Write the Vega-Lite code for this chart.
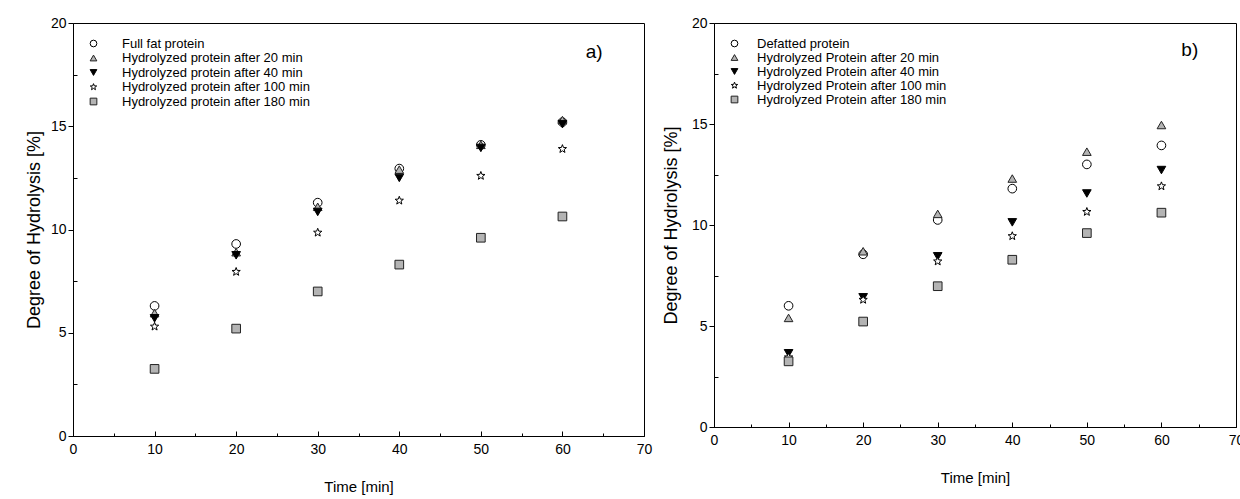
{
  "$schema": "https://vega.github.io/schema/vega-lite/v6.json",
  "background": "white",
  "padding": {"left": 24, "top": 15, "right": 0, "bottom": 0},
  "config": {
    "font": "Liberation Sans",
    "view": {"stroke": "#000", "strokeWidth": 1},
    "axis": {
      "grid": false,
      "domainColor": "#000",
      "tickColor": "#000",
      "labelColor": "#000",
      "titleColor": "#000",
      "labelFont": "Liberation Sans",
      "titleFont": "Liberation Sans",
      "labelFontSize": 14,
      "titleFontSize": 15,
      "titleFontWeight": "normal",
      "labelFlush": false,
      "labelOverlap": false
    },
    "legend": {
      "labelFont": "Liberation Sans",
      "labelFontSize": 13,
      "labelColor": "#000",
      "labelLimit": 0,
      "symbolStrokeWidth": 1,
      "symbolSize": 45,
      "rowPadding": 0.5,
      "labelOffset": 22,
      "padding": 5,
      "offset": 10,
      "orient": "top-left"
    }
  },
  "datasets": {
    "fullfat": [
      {"time": 10, "sample": "Full fat protein", "dh": 6.3},
      {"time": 10, "sample": "Hydrolyzed protein after 20 min", "dh": 5.95},
      {"time": 10, "sample": "Hydrolyzed protein after 40 min", "dh": 5.7},
      {"time": 10, "sample": "Hydrolyzed protein after 100 min", "dh": 5.3},
      {"time": 10, "sample": "Hydrolyzed protein after 180 min", "dh": 3.25},
      {"time": 20, "sample": "Full fat protein", "dh": 9.3},
      {"time": 20, "sample": "Hydrolyzed protein after 20 min", "dh": 8.9},
      {"time": 20, "sample": "Hydrolyzed protein after 40 min", "dh": 8.75},
      {"time": 20, "sample": "Hydrolyzed protein after 100 min", "dh": 7.95},
      {"time": 20, "sample": "Hydrolyzed protein after 180 min", "dh": 5.2},
      {"time": 30, "sample": "Full fat protein", "dh": 11.3},
      {"time": 30, "sample": "Hydrolyzed protein after 20 min", "dh": 11.1},
      {"time": 30, "sample": "Hydrolyzed protein after 40 min", "dh": 10.85},
      {"time": 30, "sample": "Hydrolyzed protein after 100 min", "dh": 9.85},
      {"time": 30, "sample": "Hydrolyzed protein after 180 min", "dh": 7.0},
      {"time": 40, "sample": "Full fat protein", "dh": 12.95},
      {"time": 40, "sample": "Hydrolyzed protein after 20 min", "dh": 12.9},
      {"time": 40, "sample": "Hydrolyzed protein after 40 min", "dh": 12.5},
      {"time": 40, "sample": "Hydrolyzed protein after 100 min", "dh": 11.4},
      {"time": 40, "sample": "Hydrolyzed protein after 180 min", "dh": 8.3},
      {"time": 50, "sample": "Full fat protein", "dh": 14.1},
      {"time": 50, "sample": "Hydrolyzed protein after 20 min", "dh": 14.1},
      {"time": 50, "sample": "Hydrolyzed protein after 40 min", "dh": 13.95},
      {"time": 50, "sample": "Hydrolyzed protein after 100 min", "dh": 12.6},
      {"time": 50, "sample": "Hydrolyzed protein after 180 min", "dh": 9.6},
      {"time": 60, "sample": "Full fat protein", "dh": 15.2},
      {"time": 60, "sample": "Hydrolyzed protein after 20 min", "dh": 15.3},
      {"time": 60, "sample": "Hydrolyzed protein after 40 min", "dh": 15.1},
      {"time": 60, "sample": "Hydrolyzed protein after 100 min", "dh": 13.9},
      {"time": 60, "sample": "Hydrolyzed protein after 180 min", "dh": 10.63}
    ],
    "defatted": [
      {"time": 10, "sample": "Defatted protein", "dh": 6.0},
      {"time": 10, "sample": "Hydrolyzed Protein after 20 min", "dh": 5.4},
      {"time": 10, "sample": "Hydrolyzed Protein after 40 min", "dh": 3.65},
      {"time": 10, "sample": "Hydrolyzed Protein after 100 min", "dh": 3.45},
      {"time": 10, "sample": "Hydrolyzed Protein after 180 min", "dh": 3.25},
      {"time": 20, "sample": "Defatted protein", "dh": 8.55},
      {"time": 20, "sample": "Hydrolyzed Protein after 20 min", "dh": 8.7},
      {"time": 20, "sample": "Hydrolyzed Protein after 40 min", "dh": 6.42},
      {"time": 20, "sample": "Hydrolyzed Protein after 100 min", "dh": 6.3},
      {"time": 20, "sample": "Hydrolyzed Protein after 180 min", "dh": 5.22},
      {"time": 30, "sample": "Defatted protein", "dh": 10.25},
      {"time": 30, "sample": "Hydrolyzed Protein after 20 min", "dh": 10.55},
      {"time": 30, "sample": "Hydrolyzed Protein after 40 min", "dh": 8.45},
      {"time": 30, "sample": "Hydrolyzed Protein after 100 min", "dh": 8.2},
      {"time": 30, "sample": "Hydrolyzed Protein after 180 min", "dh": 6.97},
      {"time": 40, "sample": "Defatted protein", "dh": 11.8},
      {"time": 40, "sample": "Hydrolyzed Protein after 20 min", "dh": 12.3},
      {"time": 40, "sample": "Hydrolyzed Protein after 40 min", "dh": 10.13},
      {"time": 40, "sample": "Hydrolyzed Protein after 100 min", "dh": 9.45},
      {"time": 40, "sample": "Hydrolyzed Protein after 180 min", "dh": 8.28},
      {"time": 50, "sample": "Defatted protein", "dh": 13.0},
      {"time": 50, "sample": "Hydrolyzed Protein after 20 min", "dh": 13.63},
      {"time": 50, "sample": "Hydrolyzed Protein after 40 min", "dh": 11.56},
      {"time": 50, "sample": "Hydrolyzed Protein after 100 min", "dh": 10.65},
      {"time": 50, "sample": "Hydrolyzed Protein after 180 min", "dh": 9.6},
      {"time": 60, "sample": "Defatted protein", "dh": 13.94},
      {"time": 60, "sample": "Hydrolyzed Protein after 20 min", "dh": 14.95},
      {"time": 60, "sample": "Hydrolyzed Protein after 40 min", "dh": 12.72},
      {"time": 60, "sample": "Hydrolyzed Protein after 100 min", "dh": 11.92},
      {"time": 60, "sample": "Hydrolyzed Protein after 180 min", "dh": 10.61}
    ]
  },
  "spacing": 8,
  "hconcat": [
    {
      "width": 571,
      "height": 413,
      "data": {"name": "fullfat"},
      "layer": [
        {
          "mark": {"type": "point", "opacity": 0},
          "encoding": {
            "x": {"field": "time", "type": "quantitative", "scale": {"domain": [0, 70], "nice": false},
                  "axis": {"orient": "bottom", "values": [5, 15, 25, 35, 45, 55, 65], "labels": false, "domain": false, "tickSize": -3, "title": null}},
            "y": {"field": "dh", "type": "quantitative", "scale": {"domain": [0, 20], "nice": false},
                  "axis": {"orient": "left", "values": [2.5, 7.5, 12.5, 17.5], "labels": false, "domain": false, "tickSize": -4, "title": null}}
          }
        },
        {
          "mark": {"type": "point", "filled": true, "size": 75, "strokeWidth": 1, "opacity": 1},
          "encoding": {
            "x": {"field": "time", "type": "quantitative", "scale": {"domain": [0, 70], "nice": false},
                  "axis": {"orient": "bottom", "values": [0, 10, 20, 30, 40, 50, 60, 70], "tickSize": -5, "labelPadding": 11, "title": "Time [min]", "titlePadding": 23}},
            "y": {"field": "dh", "type": "quantitative", "scale": {"domain": [0, 20], "nice": false},
                  "axis": {"orient": "left", "values": [0, 5, 10, 15, 20], "tickSize": 5, "labelPadding": 2, "title": "Degree of Hydrolysis [%]", "titleFontSize": 18, "titlePadding": 7}},
            "shape": {"field": "sample", "type": "nominal",
                      "scale": {"domain": ["Full fat protein", "Hydrolyzed protein after 20 min", "Hydrolyzed protein after 40 min", "Hydrolyzed protein after 100 min", "Hydrolyzed protein after 180 min"],
                                "range": ["circle", "triangle-up", "triangle-down", "M0,-1L0.25,-0.34L0.951,-0.309L0.4,0.13L0.588,0.809L0,0.42L-0.588,0.809L-0.4,0.13L-0.951,-0.309L-0.25,-0.34Z", "square"]},
                      "legend": {"title": null, "offset": 9}},
            "fill": {"field": "sample", "type": "nominal",
                     "scale": {"domain": ["Full fat protein", "Hydrolyzed protein after 20 min", "Hydrolyzed protein after 40 min", "Hydrolyzed protein after 100 min", "Hydrolyzed protein after 180 min"],
                               "range": ["#ffffff", "#b4b4b4", "#000000", "#ffffff", "#b4b4b4"]},
                     "legend": {"title": null, "offset": 9}},
            "stroke": {"field": "sample", "type": "nominal",
                       "scale": {"domain": ["Full fat protein", "Hydrolyzed protein after 20 min", "Hydrolyzed protein after 40 min", "Hydrolyzed protein after 100 min", "Hydrolyzed protein after 180 min"],
                                 "range": ["#000000", "#222222", "#000000", "#000000", "#222222"]},
                       "legend": {"title": null, "offset": 9}}
          }
        },
        {
          "data": {"values": [{"panel": "a)"}]},
          "mark": {"type": "text", "fontSize": 19, "fontWeight": "normal", "font": "Liberation Sans", "color": "#000"},
          "encoding": {
            "x": {"datum": 63.9, "type": "quantitative", "axis": null},
            "y": {"datum": 18.6, "type": "quantitative", "axis": null},
            "text": {"field": "panel"}
          }
        }
      ],
      "resolve": {"axis": {"x": "independent", "y": "independent"}}
    },
    {
      "width": 522,
      "height": 404,
      "data": {"name": "defatted"},
      "layer": [
        {
          "mark": {"type": "point", "opacity": 0},
          "encoding": {
            "x": {"field": "time", "type": "quantitative", "scale": {"domain": [0, 70], "nice": false},
                  "axis": {"orient": "bottom", "values": [5, 15, 25, 35, 45, 55, 65], "labels": false, "domain": false, "tickSize": -3, "title": null}},
            "y": {"field": "dh", "type": "quantitative", "scale": {"domain": [0, 20], "nice": false},
                  "axis": {"orient": "left", "values": [2.5, 7.5, 12.5, 17.5], "labels": false, "domain": false, "tickSize": -4, "title": null}}
          }
        },
        {
          "mark": {"type": "point", "filled": true, "size": 75, "strokeWidth": 1, "opacity": 1},
          "encoding": {
            "x": {"field": "time", "type": "quantitative", "scale": {"domain": [0, 70], "nice": false},
                  "axis": {"orient": "bottom", "values": [0, 10, 20, 30, 40, 50, 60, 70], "tickSize": -5, "labelPadding": 11, "title": "Time [min]", "titlePadding": 23}},
            "y": {"field": "dh", "type": "quantitative", "scale": {"domain": [0, 20], "nice": false},
                  "axis": {"orient": "left", "values": [0, 5, 10, 15, 20], "tickSize": 5, "labelPadding": 2, "title": "Degree of Hydrolysis [%]", "titleFontSize": 18, "titlePadding": 11}},
            "shape": {"field": "sample", "type": "nominal",
                      "scale": {"domain": ["Defatted protein", "Hydrolyzed Protein after 20 min", "Hydrolyzed Protein after 40 min", "Hydrolyzed Protein after 100 min", "Hydrolyzed Protein after 180 min"],
                                "range": ["circle", "triangle-up", "triangle-down", "M0,-1L0.25,-0.34L0.951,-0.309L0.4,0.13L0.588,0.809L0,0.42L-0.588,0.809L-0.4,0.13L-0.951,-0.309L-0.25,-0.34Z", "square"]},
                      "legend": {"title": null, "labelOffset": 16, "offset": 9, "padding": 5, "rowPadding": 0}},
            "fill": {"field": "sample", "type": "nominal",
                     "scale": {"domain": ["Defatted protein", "Hydrolyzed Protein after 20 min", "Hydrolyzed Protein after 40 min", "Hydrolyzed Protein after 100 min", "Hydrolyzed Protein after 180 min"],
                               "range": ["#ffffff", "#b4b4b4", "#000000", "#ffffff", "#b4b4b4"]},
                     "legend": {"title": null, "labelOffset": 16, "offset": 9, "padding": 5, "rowPadding": 0}},
            "stroke": {"field": "sample", "type": "nominal",
                       "scale": {"domain": ["Defatted protein", "Hydrolyzed Protein after 20 min", "Hydrolyzed Protein after 40 min", "Hydrolyzed Protein after 100 min", "Hydrolyzed Protein after 180 min"],
                                 "range": ["#000000", "#222222", "#000000", "#000000", "#222222"]},
                       "legend": {"title": null, "labelOffset": 16, "offset": 9, "padding": 5, "rowPadding": 0}}
          }
        },
        {
          "data": {"values": [{"panel": "b)"}]},
          "mark": {"type": "text", "fontSize": 19, "fontWeight": "normal", "font": "Liberation Sans", "color": "#000"},
          "encoding": {
            "x": {"datum": 63.8, "type": "quantitative", "axis": null},
            "y": {"datum": 18.65, "type": "quantitative", "axis": null},
            "text": {"field": "panel"}
          }
        }
      ],
      "resolve": {"axis": {"x": "independent", "y": "independent"}}
    }
  ],
  "resolve": {
    "scale": {"x": "independent", "y": "independent", "shape": "independent", "fill": "independent", "stroke": "independent"},
    "legend": {"shape": "independent", "fill": "independent", "stroke": "independent"}
  }
}
